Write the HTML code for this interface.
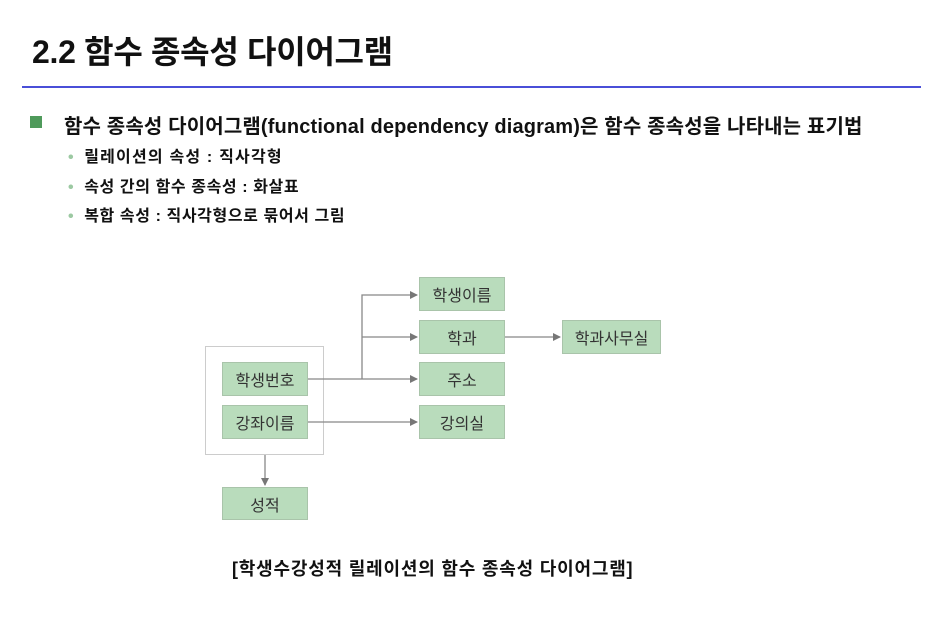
<!DOCTYPE html>
<html><head><meta charset="utf-8"><style>
body{margin:0;width:939px;height:628px;background:#fff;overflow:hidden;font-family:"Liberation Sans","Noto Sans CJK KR",sans-serif;position:relative;color:#111}
.a{position:absolute;white-space:nowrap}
.b{position:absolute;background:#b9dcbc;border:1px solid #a9c4aa;box-sizing:border-box;display:flex;align-items:center;justify-content:center;font-size:16px;color:#333}
.s{font-size:16px;font-weight:bold;letter-spacing:0.6px}
</style></head><body>
<div class="a" style="left:32px;top:27px;font-size:32px;font-weight:bold;letter-spacing:-0.3px">2.2 함수 종속성 다이어그램</div>
<div class="a" style="left:22px;top:86px;width:899px;height:2px;background:#4a4fd8"></div>
<div class="a" style="left:30px;top:116px;width:12px;height:12px;background:#4f9a5b"></div>
<div class="a" style="left:64px;top:110px;font-size:20px;font-weight:bold;letter-spacing:0.15px">함수 종속성 다이어그램(functional dependency diagram)은 함수 종속성을 나타내는 표기법</div>
<div class="a s" style="left:68px;top:143px"><span style="color:#9cc9a2;margin-right:10px">•</span><span style="letter-spacing:1.2px">릴레이션의 속성 : 직사각형</span></div>
<div class="a s" style="left:68px;top:173px"><span style="color:#9cc9a2;margin-right:10px">•</span>속성 간의 함수 종속성 : 화살표</div>
<div class="a s" style="left:68px;top:202px"><span style="color:#9cc9a2;margin-right:10px">•</span>복합 속성 : 직사각형으로 묶어서 그림</div>
<div class="a" style="left:205px;top:346px;width:119px;height:109px;border:1px solid #ccc;box-sizing:border-box"></div>
<svg class="a" style="left:0;top:0" width="939" height="628">
<defs><marker id="m" markerWidth="8" markerHeight="8" refX="7" refY="4" orient="auto" markerUnits="userSpaceOnUse"><path d="M0,0L8,4L0,8z" fill="#777"/></marker></defs>
<g stroke="#888" stroke-width="1.3" fill="none">
<path d="M308,379H417" marker-end="url(#m)"/>
<path d="M362,379V295H417" marker-end="url(#m)"/>
<path d="M362,337H417" marker-end="url(#m)"/>
<path d="M308,422H417" marker-end="url(#m)"/>
<path d="M505,337H560" marker-end="url(#m)"/>
<path d="M265,455V485" marker-end="url(#m)"/>
</g></svg>
<div class="b" style="left:419px;top:277px;width:86px;height:34px">학생이름</div>
<div class="b" style="left:419px;top:320px;width:86px;height:34px">학과</div>
<div class="b" style="left:419px;top:362px;width:86px;height:34px">주소</div>
<div class="b" style="left:419px;top:405px;width:86px;height:34px">강의실</div>
<div class="b" style="left:562px;top:320px;width:99px;height:34px">학과사무실</div>
<div class="b" style="left:222px;top:362px;width:86px;height:34px">학생번호</div>
<div class="b" style="left:222px;top:405px;width:86px;height:34px">강좌이름</div>
<div class="b" style="left:222px;top:487px;width:86px;height:33px">성적</div>
<div class="a" style="left:232px;top:555px;font-size:18px;font-weight:bold;letter-spacing:0.8px">[학생수강성적 릴레이션의 함수 종속성 다이어그램]</div>
</body></html>
